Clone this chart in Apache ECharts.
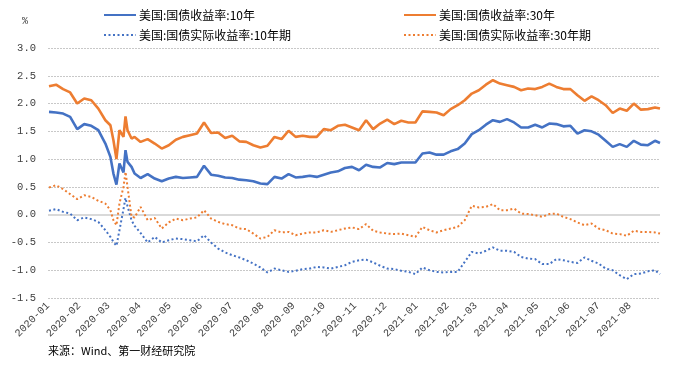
<!DOCTYPE html>
<html>
<head>
<meta charset="utf-8">
<script src="https://cdn.jsdelivr.net/npm/echarts@6/dist/echarts.min.js"></script>
<style>html,body{margin:0;padding:0;background:#fff}#c{width:674px;height:367px}</style>
</head>
<body>
<div id="c"></div>
<script>
const dates = [
"2020-01-02","2020-01-09","2020-01-16","2020-01-23","2020-01-30","2020-02-06","2020-02-13","2020-02-20","2020-02-27","2020-03-03","2020-03-06","2020-03-09","2020-03-12","2020-03-16","2020-03-18","2020-03-20","2020-03-24","2020-03-27","2020-04-02","2020-04-09",
"2020-04-16","2020-04-23","2020-04-30","2020-05-07","2020-05-14","2020-05-21","2020-05-28","2020-06-04","2020-06-11","2020-06-18","2020-06-25","2020-07-02","2020-07-09","2020-07-16",
"2020-07-23","2020-07-30","2020-08-06","2020-08-13","2020-08-20","2020-08-27","2020-09-03","2020-09-10","2020-09-17","2020-09-24","2020-10-01","2020-10-08","2020-10-15","2020-10-22",
"2020-10-29","2020-11-05","2020-11-12","2020-11-19","2020-11-26","2020-12-03","2020-12-10","2020-12-17","2020-12-24","2020-12-31","2021-01-07","2021-01-14","2021-01-21","2021-01-28",
"2021-02-04","2021-02-11","2021-02-18","2021-02-25","2021-03-04","2021-03-11","2021-03-18","2021-03-25","2021-04-01","2021-04-08","2021-04-15","2021-04-22","2021-04-29","2021-05-06","2021-05-13",
"2021-05-20","2021-05-27","2021-06-03","2021-06-10","2021-06-17","2021-06-24","2021-07-01","2021-07-08","2021-07-15","2021-07-22","2021-07-29","2021-08-05","2021-08-12","2021-08-19","2021-08-26","2021-08-31"
];
const yield10 = [
1.85,1.84,1.82,1.76,1.54,1.63,1.60,1.52,1.28,1.04,0.74,0.54,0.92,0.76,1.16,0.95,0.86,0.74,0.66,0.73,
0.65,0.60,0.65,0.68,0.66,0.67,0.68,0.88,0.72,0.70,0.67,0.66,0.63,0.62,
0.60,0.56,0.55,0.68,0.65,0.73,0.67,0.68,0.70,0.68,0.72,0.76,0.78,0.84,
0.86,0.80,0.90,0.86,0.85,0.93,0.91,0.94,0.94,0.94,1.10,1.12,1.08,1.08,
1.14,1.18,1.28,1.45,1.52,1.62,1.70,1.67,1.72,1.66,1.57,1.57,1.62,1.57,1.64,
1.63,1.59,1.60,1.46,1.52,1.50,1.44,1.33,1.22,1.27,1.22,1.33,1.26,1.25,1.33,1.29
];
const yield30 = [
2.31,2.34,2.26,2.20,2.00,2.09,2.06,1.91,1.70,1.61,1.34,1.00,1.52,1.40,1.77,1.52,1.37,1.40,1.31,1.36,
1.28,1.19,1.25,1.35,1.40,1.43,1.46,1.66,1.47,1.48,1.38,1.42,1.32,1.31,
1.25,1.21,1.24,1.40,1.36,1.51,1.40,1.42,1.40,1.40,1.54,1.52,1.60,1.62,
1.57,1.52,1.70,1.54,1.64,1.71,1.63,1.69,1.66,1.66,1.86,1.85,1.84,1.79,
1.90,1.97,2.06,2.18,2.24,2.34,2.42,2.36,2.33,2.30,2.24,2.27,2.26,2.30,2.36,
2.30,2.26,2.26,2.15,2.05,2.13,2.06,1.97,1.83,1.91,1.87,2.00,1.89,1.90,1.93,1.91
];
const real10 = [
0.07,0.10,0.05,0.02,-0.10,-0.05,-0.08,-0.13,-0.28,-0.40,-0.49,-0.56,-0.28,0.10,0.30,0.15,-0.10,-0.20,-0.33,-0.50,
-0.40,-0.50,-0.46,-0.43,-0.44,-0.46,-0.48,-0.37,-0.50,-0.61,-0.68,-0.73,-0.77,-0.82,
-0.88,-0.95,-1.04,-0.97,-1.00,-1.03,-1.01,-0.98,-0.97,-0.94,-0.95,-0.97,-0.94,-0.91,
-0.85,-0.82,-0.81,-0.86,-0.92,-0.97,-0.98,-1.01,-1.03,-1.07,-0.95,-1.00,-1.03,-1.04,
-1.03,-1.03,-0.85,-0.67,-0.70,-0.65,-0.59,-0.65,-0.65,-0.67,-0.76,-0.79,-0.80,-0.89,-0.89,
-0.80,-0.82,-0.85,-0.87,-0.77,-0.83,-0.88,-0.97,-1.00,-1.09,-1.16,-1.07,-1.06,-1.02,-1.00,-1.07
];
const real30 = [
0.49,0.53,0.46,0.37,0.28,0.35,0.32,0.25,0.20,0.08,-0.10,-0.19,0.20,0.50,0.77,0.50,-0.04,-0.05,0.14,-0.10,
-0.06,-0.25,-0.14,-0.07,-0.10,-0.07,-0.05,0.08,-0.07,-0.13,-0.17,-0.19,-0.25,-0.26,
-0.34,-0.43,-0.40,-0.28,-0.32,-0.31,-0.37,-0.34,-0.32,-0.32,-0.28,-0.31,-0.28,-0.25,
-0.23,-0.26,-0.17,-0.29,-0.32,-0.34,-0.35,-0.34,-0.37,-0.40,-0.22,-0.28,-0.32,-0.28,
-0.25,-0.22,-0.10,0.16,0.13,0.14,0.19,0.08,0.08,0.11,0.02,0.01,-0.01,-0.04,0.01,
0.02,-0.04,-0.08,-0.14,-0.19,-0.16,-0.25,-0.28,-0.34,-0.35,-0.38,-0.29,-0.31,-0.31,-0.32,-0.34
];
const names = ["美国:国债收益率:10年","美国:国债收益率:30年","美国:国债实际收益率:10年期","美国:国债实际收益率:30年期"];
const BLUE = "#4472C4", ORANGE = "#ED7D31";
const TXT = "Noto Sans CJK SC";
const NUM = "Liberation Mono";

function pair(vals){ return dates.map((d,i)=>[d, vals[i]]); }

const chart = echarts.init(document.getElementById('c'), null, {renderer:'canvas'});
function legend(i, left, top){
  return {data:[names[i]], left:left, top:top, itemWidth:32, itemHeight:10, itemGap:0, padding:0,
    itemStyle:{opacity:0},
    textStyle:{fontFamily:TXT, fontSize:12, color:'#000', padding:[0,0,0,-2]}};
}
chart.setOption({
  animation:false,
  legend:[legend(0,103,9), legend(1,403,9), legend(2,103,29), legend(3,403,29)],
  grid:{left:48, right:14, top:48, bottom:69},
  xAxis:{
    type:'time', min:'2020-01-01', max:'2021-08-31', splitNumber:20,
    axisLine:{show:false}, axisTick:{show:false}, splitLine:{show:false},
    axisLabel:{rotate:45, fontFamily:NUM, fontSize:10.5, color:'#404040', margin:6, hideOverlap:false, showMaxLabel:false,
      formatter:function(v){ const d=new Date(v); const m=d.getMonth()+1; return d.getFullYear()+'-'+(m<10?'0'+m:m); }}
  },
  yAxis:{
    type:'value', min:-1.5, max:3.0, interval:0.5,
    axisLine:{show:false}, axisTick:{show:false},
    splitLine:{lineStyle:{color:'#c8c8c8', type:[2,1], width:1}},
    axisLabel:{fontFamily:NUM, fontSize:10.5, color:'#404040', margin:12, formatter:function(v){return v.toFixed(1);}}
  },
  graphic:[
    {type:'text', left:22, top:16, style:{text:'%', font:'10px '+NUM, fill:'#404040'}},
    {type:'text', left:48, top:345, style:{text:'来源：Wind、第一财经研究院', font:'11px "'+TXT+'"', fill:'#000'}}
  ],
  series:[
    {name:names[0], type:'line', data:pair(yield10), showSymbol:false, symbol:'none', color:BLUE,
      lineStyle:{color:BLUE, width:2.6}, z:4,
      markLine:{silent:true, symbol:['none','none'], label:{show:false}, data:[{yAxis:0}],
        lineStyle:{color:'#d9d9d9', width:2, type:'solid'}, z:1}},
    {name:names[1], type:'line', data:pair(yield30), showSymbol:false, symbol:'none', color:ORANGE,
      lineStyle:{color:ORANGE, width:2.6}, z:4},
    {name:names[2], type:'line', data:pair(real10), showSymbol:false, symbol:'none', color:BLUE,
      lineStyle:{color:BLUE, width:2, type:[2,2.5]}, z:3},
    {name:names[3], type:'line', data:pair(real30), showSymbol:false, symbol:'none', color:ORANGE,
      lineStyle:{color:ORANGE, width:2, type:[2,2.5]}, z:3}
  ]
});
</script>
</body>
</html>
